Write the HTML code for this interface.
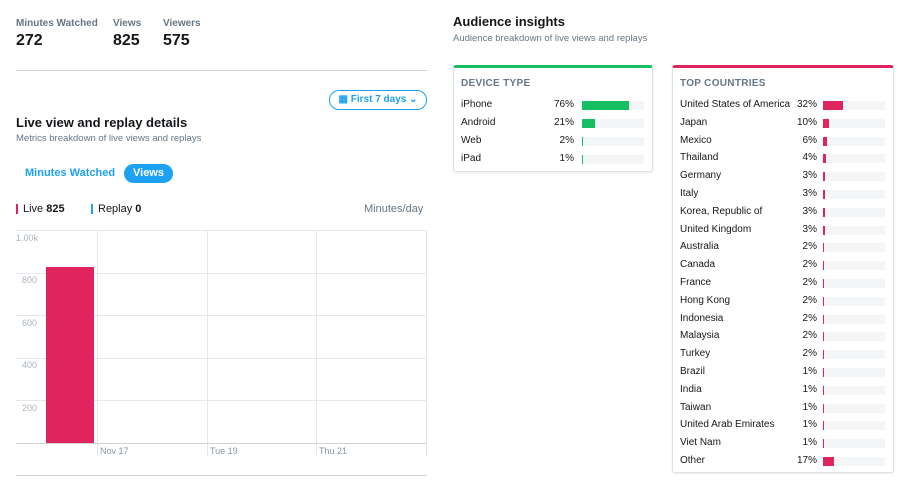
<!DOCTYPE html>
<html><head><style>
body{margin:0;width:900px;height:488px;background:#fff;font-family:"Liberation Sans",Arial,sans-serif;position:relative;overflow:hidden;color:#14171a}
.a{position:absolute}
.lbl{font-size:10px;color:#657786;font-weight:bold}
.num{font-size:16px;font-weight:bold;color:#14171a}
.card{position:absolute;border:1px solid #dde2e6;border-radius:3px;box-shadow:0 1px 2px rgba(0,0,0,.08);background:#fff}
.row{position:absolute;left:0;right:0;height:18px;font-size:10px;color:#14171a}
.row .n{position:absolute;left:7px;top:0}
.row .p{position:absolute;top:0;text-align:right;width:40px}
.row .t{position:absolute;top:2px;height:9px;background:#f3f5f7}
.row .b{position:absolute;top:0;height:9px}
.yl{position:absolute;font-size:9px;color:#aab4bd;left:22px}
.xl{position:absolute;font-size:9px;color:#8a959e;top:446px}
</style></head><body>
<div class="a lbl" style="left:16px;top:18px">Minutes Watched</div>
<div class="a num" style="left:16px;top:32px">272</div>
<div class="a lbl" style="left:113px;top:18px">Views</div>
<div class="a num" style="left:113px;top:32px">825</div>
<div class="a lbl" style="left:163px;top:18px">Viewers</div>
<div class="a num" style="left:163px;top:32px">575</div>
<div class="a" style="left:16px;top:70px;width:411px;height:1px;background:#ccd3d8"></div>
<div class="a" style="left:329px;top:90px;width:96px;height:18px;border:1px solid #1da1f2;border-radius:10px;color:#1da1f2;font-size:10px;font-weight:bold;line-height:18px;text-align:center">▦ First 7 days ⌄</div>
<div class="a" style="left:16px;top:115px;font-size:13px;font-weight:bold">Live view and replay details</div>
<div class="a" style="left:16px;top:133px;font-size:9.5px;color:#657786">Metrics breakdown of live views and replays</div>
<div class="a" style="left:25px;top:167px;font-size:11px;font-weight:bold;color:#1da1f2">Minutes Watched</div>
<div class="a" style="left:124px;top:164px;width:49px;height:19px;border-radius:10px;background:#1da1f2;color:#fff;font-size:11px;font-weight:bold;line-height:19px;text-align:center">Views</div>
<div class="a" style="left:16px;top:204px;width:2px;height:10px;background:#e0245e"></div>
<div class="a" style="left:23px;top:203px;font-size:11px">Live <b>825</b></div>
<div class="a" style="left:91px;top:204px;width:2px;height:10px;background:#1da1f2"></div>
<div class="a" style="left:98px;top:203px;font-size:11px">Replay <b>0</b></div>
<div class="a" style="left:364px;top:203px;font-size:11px;color:#657786">Minutes/day</div>
<svg class="a" style="left:0;top:0" width="440" height="488">
<g stroke="#e4e8eb" stroke-width="1">
<line x1="16" y1="230.5" x2="426" y2="230.5"/><line x1="16" y1="273.5" x2="426" y2="273.5"/><line x1="16" y1="315.5" x2="426" y2="315.5"/><line x1="16" y1="358.5" x2="426" y2="358.5"/><line x1="16" y1="400.5" x2="426" y2="400.5"/>
<line x1="97.5" y1="230" x2="97.5" y2="456"/><line x1="207.5" y1="230" x2="207.5" y2="456"/><line x1="316.5" y1="230" x2="316.5" y2="456"/><line x1="426.5" y1="230" x2="426.5" y2="456"/>
</g>
<line x1="16" y1="443.5" x2="426" y2="443.5" stroke="#ccd3d8"/>
<rect x="46" y="267" width="48" height="176" fill="#e0245e"/>
<line x1="16" y1="475.5" x2="427" y2="475.5" stroke="#ccd3d8"/>
</svg>
<div class="yl" style="left:16px;top:233px">1.00k</div>
<div class="yl" style="top:275px">800</div>
<div class="yl" style="top:318px">600</div>
<div class="yl" style="top:360px">400</div>
<div class="yl" style="top:403px">200</div>
<div class="xl" style="left:100px">Nov 17</div>
<div class="xl" style="left:210px">Tue 19</div>
<div class="xl" style="left:319px">Thu 21</div>

<div class="a" style="left:453px;top:14px;font-size:13px;font-weight:bold">Audience insights</div>
<div class="a" style="left:453px;top:33px;font-size:9.5px;color:#657786">Audience breakdown of live views and replays</div>

<div class="card" style="left:453px;top:65px;width:198px;height:103px;border-top:3px solid #17bf63">
<div class="a" style="left:7px;top:10px;font-size:10px;font-weight:bold;color:#657786;letter-spacing:.3px">DEVICE TYPE</div>
<div class="row" style="top:31px"><span class="n">iPhone</span><span class="p" style="left:80px">76%</span><span class="t" style="left:128px;width:62px"><span class="b" style="left:0;width:47px;background:#17bf63"></span></span></div>
<div class="row" style="top:49px"><span class="n">Android</span><span class="p" style="left:80px">21%</span><span class="t" style="left:128px;width:62px"><span class="b" style="left:0;width:13px;background:#17bf63"></span></span></div>
<div class="row" style="top:67px"><span class="n">Web</span><span class="p" style="left:80px">2%</span><span class="t" style="left:128px;width:62px"><span class="b" style="left:0;width:1px;background:#17bf63"></span></span></div>
<div class="row" style="top:85px"><span class="n">iPad</span><span class="p" style="left:80px">1%</span><span class="t" style="left:128px;width:62px"><span class="b" style="left:0;width:1px;background:#17bf63"></span></span></div>
</div>

<div class="card" id="c" style="left:672px;top:65px;width:220px;height:404px;border-top:3px solid #e0245e">
<div class="a" style="left:7px;top:10px;font-size:10px;font-weight:bold;color:#657786;letter-spacing:.3px">TOP COUNTRIES</div>
</div>
<script>
var d=[["United States of America",32],["Japan",10],["Mexico",6],["Thailand",4],["Germany",3],["Italy",3],["Korea, Republic of",3],["United Kingdom",3],["Australia",2],["Canada",2],["France",2],["Hong Kong",2],["Indonesia",2],["Malaysia",2],["Turkey",2],["Brazil",1],["India",1],["Taiwan",1],["United Arab Emirates",1],["Viet Nam",1],["Other",17]];
var c=document.getElementById('c'),h='';
d.forEach(function(r,i){var w=Math.max(1,Math.round(r[1]*0.63));
h+='<div class="row" style="top:'+(31+i*17.8)+'px"><span class="n">'+r[0]+'</span><span class="p" style="left:104px">'+r[1]+'%</span><span class="t" style="left:150px;width:62px"><span class="b" style="left:0;width:'+w+'px;background:#e0245e"></span></span></div>';});
c.insertAdjacentHTML('beforeend',h);
</script>
</body></html>
